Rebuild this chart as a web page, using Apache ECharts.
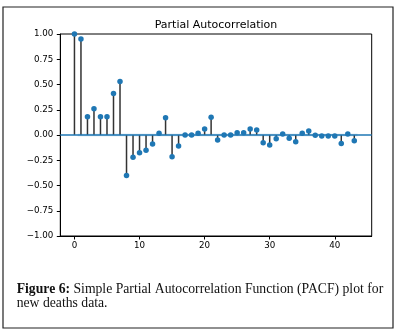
<!DOCTYPE html>
<html>
<head>
<meta charset="utf-8">
<script src="https://cdn.jsdelivr.net/npm/echarts@6/dist/echarts.min.js"></script>
<style>
html,body{margin:0;padding:0;background:#fff;}
#chart{width:397px;height:332px;}
</style>
</head>
<body>
<div id="chart"></div>
<script>
// ---- data ----
const lags = [0,1,2,3,4,5,6,7,8,9,10,11,12,13,14,15,16,17,18,19,20,21,22,23,24,25,26,27,28,29,30,31,32,33,34,35,36,37,38,39,40,41,42,43];
const pacf = [1.00,0.95,0.18,0.26,0.18,0.18,0.41,0.53,-0.40,-0.22,-0.175,-0.15,-0.09,0.017,0.17,-0.215,-0.11,0.0,0.0,0.017,0.06,0.175,-0.05,0.0,0.0,0.023,0.023,0.06,0.05,-0.076,-0.10,-0.036,0.01,-0.033,-0.066,0.017,0.04,-0.003,-0.01,-0.01,-0.01,-0.083,0.01,-0.056];
const xTicks = [0,10,20,30,40];
const yTicks = [-1.00,-0.75,-0.50,-0.25,0.00,0.25,0.50,0.75,1.00];
const confBand = [0.5, 43.5];     // lag range of confidence band
const confHalfWidth = 0.012;       // half width of band
const xRange = [-2.175, 45.675];
const yRange = [-1, 1];
const titleText = 'Partial Autocorrelation';
const captionBold = 'Figure 6:';
const captionRest1 = ' Simple Partial Autocorrelation Function (PACF) plot for';
const captionLine2 = 'new deaths data.';

const points = lags.map((l, i) => [l, pacf[i]]);
const chart = echarts.init(document.getElementById('chart'), null, {renderer: 'canvas'});
const tickFont = {fontFamily: 'DejaVu Sans', fontSize: 8.7, color: '#000'};
const capSize = 13.7;

chart.setOption({
  animation: false,
  backgroundColor: '#fff',
  grid: {left: 60.3, right: 25.3, top: 34, bottom: 96, show: true, borderColor: '#000', borderWidth: 1, backgroundColor: 'transparent'},
  xAxis: {
    type: 'value', min: xRange[0], max: xRange[1],
    axisLine: {show: true, onZero: false, lineStyle: {color: '#000', width: 1}},
    axisTick: {show: true, length: 3.5, lineStyle: {color: '#000'}, customValues: xTicks},
    axisLabel: Object.assign({margin: 5, customValues: xTicks, formatter: v => String(v)}, tickFont),
    splitLine: {show: false}
  },
  yAxis: {
    type: 'value', min: yRange[0], max: yRange[1], interval: 0.25,
    axisLine: {show: true, onZero: false, lineStyle: {color: '#000', width: 1}},
    axisTick: {show: true, length: 3.5, lineStyle: {color: '#000'}},
    axisLabel: Object.assign({margin: 7, formatter: v => v.toFixed(2).replace('-', '\u2212')}, tickFont),
    splitLine: {show: false}
  },
  graphic: [
    {type: 'rect', shape: {x: 3, y: 7, width: 390, height: 321}, style: {fill: 'none', stroke: '#222', lineWidth: 1.2}, z: 100},
    {type: 'text', x: 216, y: 25, style: {text: titleText, fontFamily: 'DejaVu Sans', fontSize: 11, fill: '#000', align: 'center', verticalAlign: 'middle'}, z: 100},
    {type: 'text', x: 16.7, y: 282, style: {
      text: '{b|' + captionBold + '}' + captionRest1 + '\n' + captionLine2,
      fontFamily: 'Liberation Serif', fontSize: capSize, lineHeight: 14.5, fill: '#111',
      align: 'left', verticalAlign: 'top',
      rich: {b: {fontWeight: 'bold', fontFamily: 'Liberation Serif', fontSize: capSize, lineHeight: 14.5, fill: '#111'}}
    }, z: 100}
  ],
  series: [
    {
      type: 'custom', name: 'stems', z: 2, clip: true,
      data: points,
      renderItem: function (params, api) {
        const p0 = api.coord([api.value(0), 0]);
        const p1 = api.coord([api.value(0), api.value(1)]);
        return {type: 'line', shape: {x1: p0[0], y1: p0[1], x2: p1[0], y2: p1[1]}, style: {stroke: '#333', lineWidth: 1.5}};
      },
      markLine: {
        silent: true, symbol: 'none', z: 3,
        lineStyle: {color: '#1f77b4', width: 1.5, type: 'solid'},
        label: {show: false},
        data: [{yAxis: 0}]
      },
      markArea: {
        silent: true,
        itemStyle: {color: 'rgba(31,119,180,0.25)'},
        data: [[{xAxis: confBand[0], yAxis: -confHalfWidth}, {xAxis: confBand[1], yAxis: confHalfWidth}]]
      }
    },
    {
      type: 'scatter', name: 'pacf', z: 4,
      data: points, symbol: 'circle', symbolSize: 5.5,
      itemStyle: {color: '#1f77b4', opacity: 1}
    }
  ]
});
</script>
</body>
</html>
